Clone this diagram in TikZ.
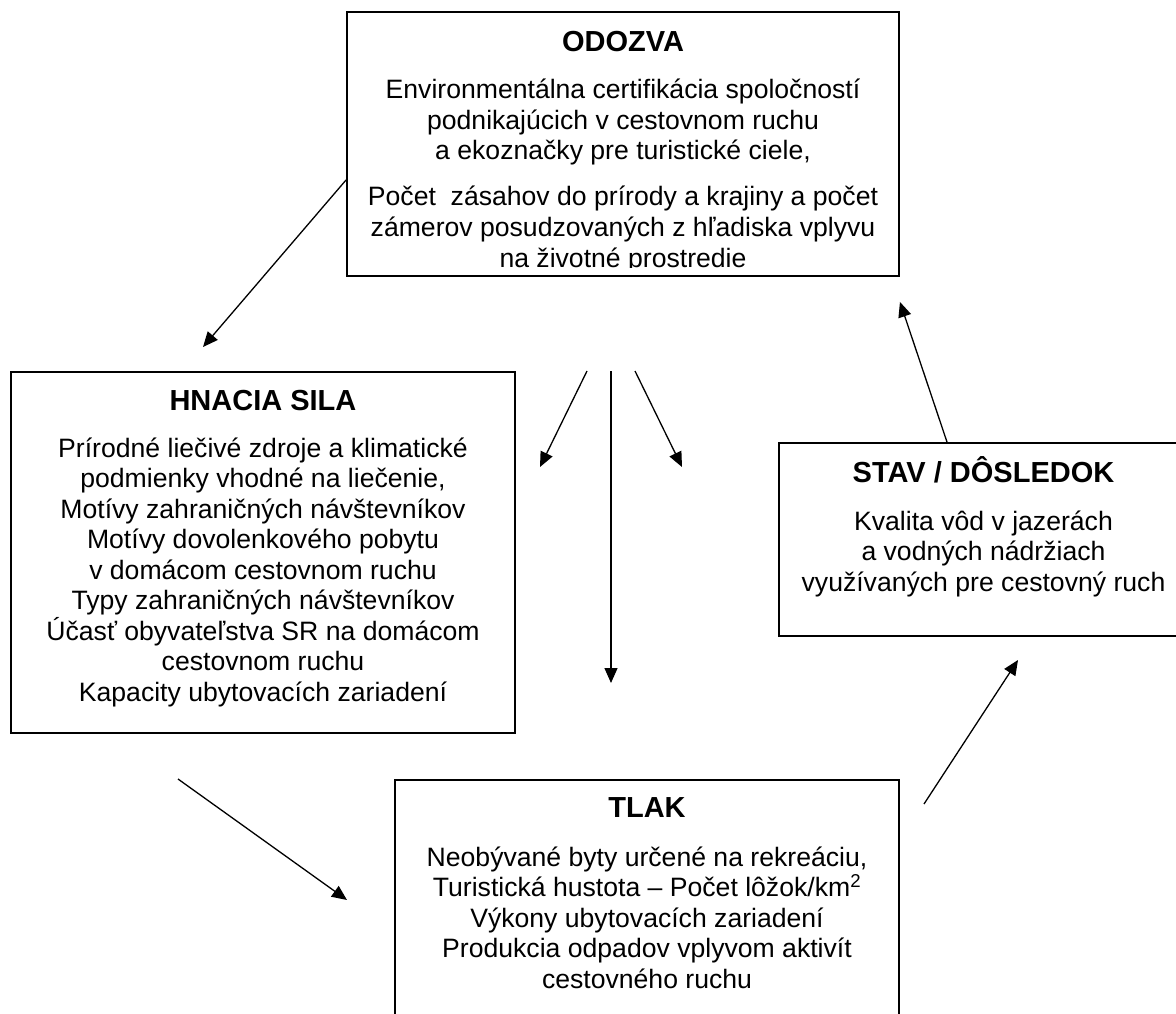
\documentclass[tikz,border=0pt]{standalone}
\usepackage{fontspec}
\setmainfont{Liberation Sans}
\usetikzlibrary{arrows.meta}
\begin{document}
\begin{tikzpicture}[x=1pt,y=-1pt,
  box/.style={draw,line width=1.9pt,inner sep=0pt},
  title/.style={anchor=base,inner sep=0pt,font=\fontsize{29}{33}\selectfont\bfseries},
  body/.style={anchor=base,inner sep=0pt,font=\fontsize{26.6}{30.5}\selectfont},
  arr/.style={line width=1.3pt,-{Triangle[length=15pt,width=13pt]}}]
\useasboundingbox (0,0) rectangle (1176,1014);
\clip (0,0) rectangle (1176,1014);
% boxes
\node[box,minimum width=552pt,minimum height=264pt] (odozva) at (623,144) {};
\node[box,minimum width=504pt,minimum height=361pt] (hnacia) at (263,552.5) {};
\node[box,minimum width=409pt,minimum height=193pt] (stav) at (983.5,539.5) {};
\node[box,minimum width=504pt,minimum height=260pt] (tlak) at (647,910) {};
% titles
\node[title] (odozvat) at (623,52) {ODOZVA};
\node[title] (hnaciat) at (263,410) {HNACIA SILA};
\node[title] (stavt) at (983.5,482) {STAV / DÔSLEDOK};
\node[title] (tlakt) at (647,817) {TLAK};
% ODOZVA text
\begin{scope}
\clip (347,12) rectangle (899,267.5);
\foreach \t [count=\i] in {{Environmentálna certifikácia spoločností},{podnikajúcich v cestovnom ruchu},{a ekoznačky pre turistické ciele,}}
  \node[body] (odoa\i) at (623,{99+30.5*(\i-1)}) {\t};
\foreach \t [count=\i] in {{Počet\ \ zásahov do prírody a krajiny a počet},{zámerov posudzovaných z hľadiska vplyvu},{na životné prostredie}}
  \node[body] (odob\i) at (623,{206+30.5*(\i-1)}) {\t};
\end{scope}
% HNACIA SILA text
\foreach \t [count=\i] in {{Prírodné liečivé zdroje a klimatické},{podmienky vhodné na liečenie,},{Motívy zahraničných návštevníkov},{Motívy dovolenkového pobytu},{v domácom cestovnom ruchu},{Typy zahraničných návštevníkov},{Účasť obyvateľstva SR na domácom},{cestovnom ruchu},{Kapacity ubytovacích zariadení}}
  \node[body] (hn\i) at (263,{457+30.5*(\i-1)}) {\t};
% STAV text
\foreach \t [count=\i] in {{Kvalita vôd v jazerách},{a vodných nádržiach},{využívaných pre cestovný ruch}}
  \node[body] (st\i) at (983.5,{530+30.5*(\i-1)}) {\t};
% TLAK text
\foreach \t [count=\i] in {{Neobývané byty určené na rekreáciu,},{Turistická hustota – Počet lôžok/km\textsuperscript{2}},{Výkony ubytovacích zariadení},{Produkcia odpadov vplyvom aktivít},{cestovného ruchu}}
  \node[body] (tl\i) at (647,{866+30.5*(\i-1)}) {\t};
% free ends
\coordinate (a1e) at (203,347);
\coordinate (f1s) at (587,371);
\coordinate (f1e) at (540,467);
\coordinate (f2s) at (611,371);
\coordinate (f2e) at (611,683);
\coordinate (f3s) at (635,371);
\coordinate (f3e) at (682,467);
\coordinate (hts) at (178,779);
\coordinate (hte) at (347,900);
\coordinate (tss) at (924,804);
\coordinate (tse) at (1018,660);
% connectors
\draw[arr] ([yshift=-36pt]odozva.west) -- (a1e);
\draw[arr] ([xshift=-36.5pt]stav.north) -- ([yshift=-25pt]odozva.south east);
\draw[arr] (f1s) -- (f1e);
\draw[arr] (f2s) -- (f2e);
\draw[arr] (f3s) -- (f3e);
\draw[arr] (hts) -- (hte);
\draw[arr] (tss) -- (tse);
\end{tikzpicture}
\end{document}
